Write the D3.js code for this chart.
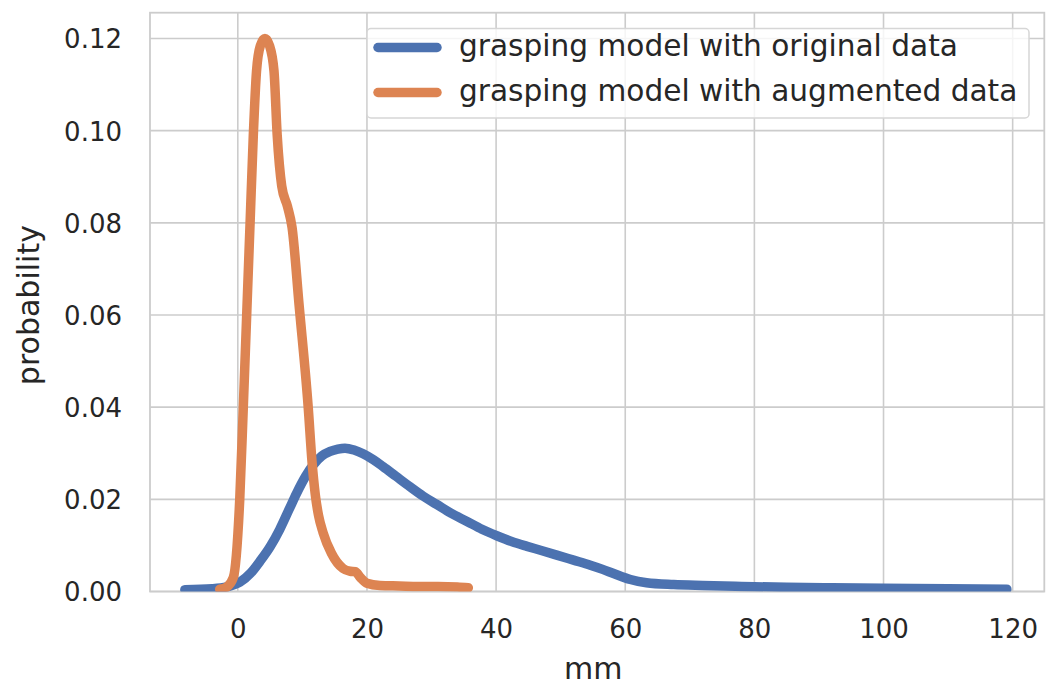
<!DOCTYPE html>
<html>
<head>
<meta charset="utf-8">
<script src="https://cdn.jsdelivr.net/npm/d3@7"></script>
<style>
  body { margin: 0; background: #fff; }
  svg { display: block; font-family: "DejaVu Sans", sans-serif; }
</style>
</head>
<body>
<svg id="chart" width="1048" height="687"></svg>
<script>
// kde curves: [mm, probability]
var originalData = [
    [-8.2, 0.0004], [-4, 0.0006], [-1.7, 0.001], [0.3, 0.002], [2, 0.0040],
    [3.4, 0.0065], [5, 0.0097], [6.5, 0.0135], [8, 0.0180], [9.1, 0.0213],
    [10.5, 0.0250], [11.7, 0.0275], [13, 0.0294], [14.3, 0.0304], [15.5, 0.0309],
    [16.6, 0.0311], [18, 0.0307], [19.4, 0.0299], [21, 0.0286], [22.5, 0.0271],
    [24.5, 0.0250], [26.7, 0.0227], [28.7, 0.0207], [30.8, 0.0189], [33, 0.0170],
    [35.5, 0.0152], [37.8, 0.0135], [40.1, 0.0121], [42.5, 0.0108], [44.8, 0.0098],
    [47, 0.0089], [49.4, 0.0079], [52, 0.0068], [54.6, 0.0057], [56.5, 0.0048],
    [58.2, 0.0039], [60.8, 0.0026], [63.3, 0.0019], [67.5, 0.0015], [72, 0.0013],
    [78, 0.0011], [85, 0.0009], [92, 0.0008], [100, 0.0007], [110, 0.0006],
    [119.1, 0.0005]
];
var augmentedData = [
    [-2.8, 0.0005], [-1.7, 0.001], [-0.7, 0.003], [0.3, 0.020], [0.85, 0.040],
    [1.4, 0.061], [1.9, 0.080], [2.4, 0.099], [2.9, 0.113], [3.5, 0.1185],
    [4.2, 0.1200], [4.9, 0.1185], [5.6, 0.113], [6.1, 0.099], [6.8, 0.088],
    [7.7, 0.0835], [8.4, 0.079], [9.5, 0.062], [10.9, 0.040], [11.5, 0.028],
    [12.0, 0.021], [12.5, 0.0165], [13.2, 0.0128], [14.5, 0.0083], [16.3, 0.005],
    [17.4, 0.0044], [18.2, 0.0043], [19.0, 0.003], [20.0, 0.0018], [22, 0.0013],
    [25, 0.0012], [28, 0.0011], [31, 0.0011], [34, 0.0010], [35.7, 0.0008]
];
var seriesNames = ['grasping model with original data', 'grasping model with augmented data'];
var xTicks = [0, 20, 40, 60, 80, 100, 120];
var yTicks = [0, 0.02, 0.04, 0.06, 0.08, 0.10, 0.12];

var colors = ['#4c72b0', '#dd8452'];
var margin = {top: 12.7, right: 3.7, bottom: 95.5, left: 150};
var W = 1048, H = 687;
var width = W - margin.left - margin.right,
    height = H - margin.top - margin.bottom;

var svg = d3.select('#chart');
var g = svg.append('g').attr('transform', 'translate(' + margin.left + ',' + margin.top + ')');

var x = d3.scaleLinear().domain([-13.6, 124.9]).range([0, width]);
var y = d3.scaleLinear().domain([0, 0.1256]).range([height, 0]);

// grid
g.selectAll('.gx').data(xTicks).enter().append('line')
    .attr('x1', function (d) { return x(d); }).attr('x2', function (d) { return x(d); })
    .attr('y1', 0).attr('y2', height)
    .attr('stroke', '#cccccc').attr('stroke-width', 1.6);
g.selectAll('.gy').data(yTicks).enter().append('line')
    .attr('y1', function (d) { return y(d); }).attr('y2', function (d) { return y(d); })
    .attr('x1', 0).attr('x2', width)
    .attr('stroke', '#cccccc').attr('stroke-width', 1.6);

// frame
g.append('rect').attr('width', width).attr('height', height)
    .attr('fill', 'none').attr('stroke', '#cccccc').attr('stroke-width', 1.8);

// axes (labels only, seaborn whitegrid has no tick marks)
var xAxis = g.append('g').attr('transform', 'translate(0,' + height + ')')
    .call(d3.axisBottom(x).tickValues(xTicks).tickSize(0).tickPadding(0).tickFormat(d3.format('d')));
var yAxis = g.append('g')
    .call(d3.axisLeft(y).tickValues(yTicks).tickSize(0).tickPadding(0).tickFormat(d3.format('.2f')));
[xAxis, yAxis].forEach(function (a) {
    a.select('.domain').remove();
    a.selectAll('text').attr('fill', '#262626').style('font-size', '26px')
        .style('font-family', '"DejaVu Sans", sans-serif');
});
xAxis.selectAll('text').attr('y', 46.5).attr('dy', 0);
yAxis.selectAll('text').attr('x', -28).attr('dy', '0.36em');

// axis labels
svg.append('text')
    .attr('x', margin.left + width / 2 - 4).attr('y', 679)
    .attr('text-anchor', 'middle').attr('fill', '#262626')
    .style('font-size', '30px').text('mm');
svg.append('text')
    .attr('transform', 'translate(38.5,' + (margin.top + height / 2 + 3) + ') rotate(-90)')
    .attr('text-anchor', 'middle').attr('fill', '#262626')
    .style('font-size', '30px').text('probability');

// curves
svg.append('defs').append('clipPath').attr('id', 'clip')
    .append('rect').attr('width', width).attr('height', height);

var line = d3.line()
    .x(function (d) { return x(d[0]); })
    .y(function (d) { return y(d[1]); })
    .curve(d3.curveMonotoneX);

var plot = g.append('g').attr('clip-path', 'url(#clip)');
[originalData, augmentedData].forEach(function (s, i) {
    plot.append('path').datum(s)
        .attr('d', line)
        .attr('fill', 'none')
        .attr('stroke', colors[i])
        .attr('stroke-width', 9.5)
        .attr('stroke-linejoin', 'round')
        .attr('stroke-linecap', 'round');
});

// legend
var legend = svg.append('g');
legend.append('rect')
    .attr('x', 367).attr('y', 28.5).attr('width', 662).attr('height', 89.5)
    .attr('rx', 4).attr('ry', 4)
    .attr('fill', '#fff').attr('fill-opacity', 0.8)
    .attr('stroke', '#d6d6d6').attr('stroke-width', 1.5);
seriesNames.forEach(function (name, i) {
    var cy = 47.5 + i * 45;
    legend.append('line')
        .attr('x1', 378).attr('x2', 437).attr('y1', cy).attr('y2', cy)
        .attr('stroke', colors[i]).attr('stroke-width', 9.5).attr('stroke-linecap', 'round');
    legend.append('text')
        .attr('x', 459).attr('y', cy).attr('dy', '0.3em')
        .attr('fill', '#262626').style('font-size', '29.6px')
        .text(name);
});
</script>
</body>
</html>
